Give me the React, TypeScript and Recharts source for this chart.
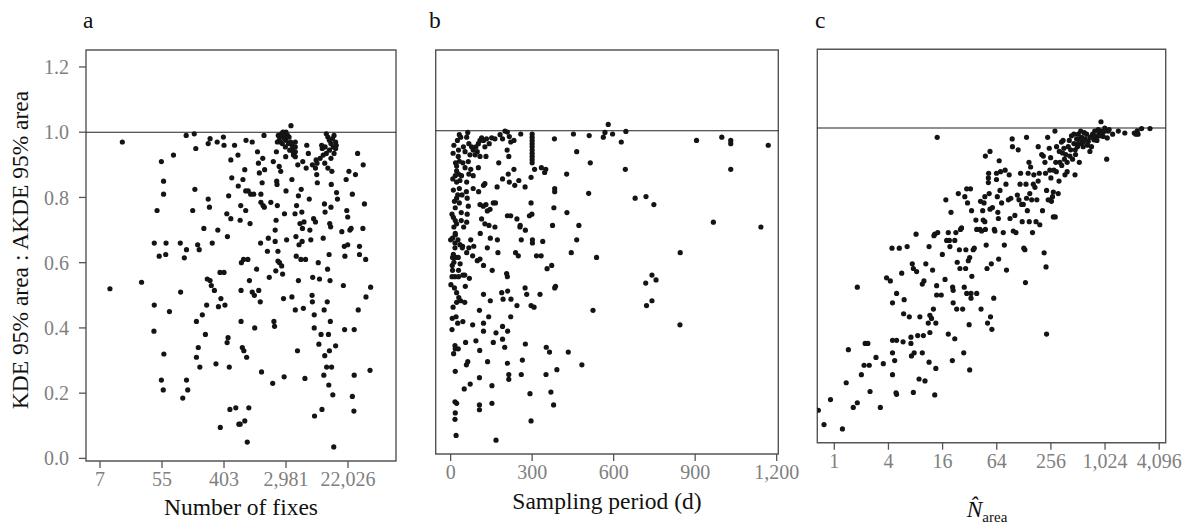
import { ScatterChart, Scatter, XAxis, YAxis, ReferenceLine, ReferenceArea } from 'recharts';

const FONT = '"Liberation Serif", "Times New Roman", serif';

const Y_TICKS = [0, 0.2, 0.4, 0.6, 0.8, 1.0, 1.2];
const Y_DOMAIN: [number, number] = [-0.008, 1.252];

// panel a: x = ln(number of fixes)
const FIXES_TICKS = [2, 4, 6, 8, 10];
// panel b: days
const PERIOD_TICKS = [0, 300, 600, 900, 1200];
// panel c: x = log2(N area)
const NAREA_TICKS = [0, 2, 4, 6, 8, 10, 12];

const fixesPoints: [number, number][] = [
  [2.32, 0.52], [2.72, 0.97], [3.34, 0.54], [3.75, 0.66], [3.75, 0.47], [3.74, 0.39], [3.84, 0.76], [3.98, 0.91],
  [3.91, 0.62], [4.05, 0.85], [4.05, 0.81], [3.98, 0.24], [4.04, 0.21], [4.06, 0.32], [4.13, 0.66], [4.12, 0.625],
  [4.24, 0.45], [4.37, 0.93], [4.59, 0.66], [4.6, 0.51], [4.67, 0.185], [4.72, 0.615], [4.78, 0.99], [4.79, 0.24],
  [4.83, 0.21], [4.79, 0.64], [4.99, 0.76], [5.04, 0.995], [5.06, 0.825], [5.09, 0.95], [5.11, 0.42], [5.11, 0.31],
  [5.17, 0.34], [5.15, 0.655], [5.2, 0.64], [5.22, 0.28], [5.3, 0.44], [5.35, 0.705], [5.4, 0.38], [5.44, 0.47],
  [5.49, 0.965], [5.49, 0.795], [5.53, 0.77], [5.55, 0.98], [5.46, 0.55], [5.55, 0.545], [5.59, 0.53], [5.62, 0.66],
  [5.69, 0.515], [5.74, 0.29], [5.78, 0.97], [5.8, 0.7], [5.82, 0.465], [5.87, 0.57], [5.9, 0.49], [5.88, 0.095],
  [5.98, 0.985], [6.0, 0.96], [6.0, 0.57], [6.03, 0.47], [6.09, 0.75], [6.11, 0.68], [6.13, 0.37], [6.1, 0.355],
  [6.15, 0.805], [6.17, 0.28], [6.19, 0.15], [6.22, 0.915], [6.22, 0.735], [6.25, 0.86], [6.34, 0.96], [6.38, 0.155],
  [6.45, 0.93], [6.46, 0.835], [6.48, 0.105], [6.52, 0.105], [6.54, 0.775], [6.52, 0.73], [6.55, 0.42], [6.55, 0.515],
  [6.56, 0.6], [6.59, 0.34], [6.61, 0.855], [6.63, 0.61], [6.64, 0.33], [6.67, 0.885], [6.67, 0.115], [6.7, 0.76],
  [6.7, 0.82], [6.71, 0.975], [6.73, 0.31], [6.75, 0.05], [6.77, 0.61], [6.78, 0.82], [6.8, 0.155], [6.82, 0.545],
  [6.84, 0.72], [6.86, 0.81], [6.91, 0.51], [6.91, 0.97], [6.96, 0.81], [6.98, 0.5], [6.99, 0.4], [7.05, 0.58],
  [7.08, 0.94], [7.11, 0.905], [7.12, 0.515], [7.14, 0.875], [7.17, 0.48], [7.18, 0.66], [7.19, 0.81], [7.19, 0.785],
  [7.21, 0.265], [7.23, 0.845], [7.25, 0.92], [7.26, 0.775], [7.29, 0.99], [7.31, 0.885], [7.3, 0.77], [7.4, 0.635],
  [7.43, 0.675], [7.46, 0.555], [7.51, 0.785], [7.57, 0.23], [7.59, 0.91], [7.61, 0.42], [7.63, 0.405], [7.65, 0.665],
  [7.65, 0.7], [7.67, 0.575], [7.68, 0.73], [7.69, 0.94], [7.7, 0.85], [7.71, 0.84], [7.72, 0.775], [7.74, 0.635],
  [7.74, 0.605], [7.78, 0.895], [7.79, 0.6], [7.83, 0.88], [7.86, 0.59], [7.89, 0.565], [7.92, 0.49], [7.94, 0.25],
  [7.95, 0.75], [8.0, 0.82], [7.99, 0.925], [8.02, 0.67], [8.16, 1.02], [8.19, 0.495], [8.19, 0.855], [8.29, 0.75],
  [8.3, 0.455], [8.32, 0.68], [8.33, 0.62], [8.34, 0.775], [8.37, 0.33], [8.38, 0.9], [8.4, 0.545], [8.4, 0.805],
  [8.42, 0.655], [8.45, 0.72], [8.48, 0.61], [8.51, 0.755], [8.49, 0.825], [8.53, 0.705], [8.52, 0.665], [8.54, 0.91],
  [8.56, 0.46], [8.58, 0.725], [8.61, 0.245], [8.63, 0.61], [8.65, 0.89], [8.67, 0.96], [8.72, 0.935], [8.75, 0.795],
  [8.77, 0.7], [8.8, 0.67], [8.84, 0.5], [8.85, 0.48], [8.86, 0.555], [8.89, 0.735], [8.91, 0.4], [8.91, 0.44],
  [8.92, 0.13], [8.95, 0.725], [8.97, 0.915], [8.99, 0.87], [9.01, 0.845], [9.04, 0.6], [9.06, 0.35], [9.08, 0.55],
  [9.13, 0.38], [9.16, 0.15], [9.17, 0.95], [9.2, 0.675], [9.22, 0.255], [9.23, 0.455], [9.24, 0.78], [9.25, 0.315],
  [9.26, 0.955], [9.26, 0.755], [9.31, 0.28], [9.33, 0.48], [9.34, 0.58], [9.37, 0.38], [9.38, 0.225], [9.39, 0.625],
  [9.4, 0.33], [9.41, 0.72], [9.42, 0.545], [9.43, 0.42], [9.44, 0.71], [9.45, 0.77], [9.46, 0.84], [9.47, 0.28],
  [9.51, 0.195], [9.54, 0.035], [9.6, 0.345], [9.63, 0.815], [9.66, 0.795], [9.8, 0.695], [9.85, 0.53], [9.88, 0.65],
  [9.89, 0.395], [9.9, 0.62], [9.94, 0.855], [9.96, 0.76], [9.99, 0.655], [9.99, 0.74], [10.03, 0.88], [10.06, 0.7],
  [10.1, 0.705], [10.14, 0.81], [10.14, 0.19], [10.19, 0.145], [10.2, 0.395], [10.2, 0.255], [10.24, 0.87], [10.31, 0.935],
  [10.33, 0.455], [10.37, 0.625], [10.48, 0.705], [10.49, 0.9], [10.53, 0.78], [10.57, 0.61], [10.58, 0.495], [10.73, 0.525],
  [10.71, 0.27], [10.37, 0.65],
  // dense cluster near 3,000 fixes
  [7.75, 0.99], [7.8, 0.985], [7.85, 0.995], [7.9, 0.99], [7.95, 0.98], [8.0, 0.975], [7.82, 0.97], [7.88, 0.965],
  [7.78, 0.975], [8.05, 0.99], [8.1, 0.985], [8.15, 0.97], [8.2, 0.96], [8.22, 0.95], [8.23, 0.94], [8.24, 0.93],
  [7.9, 1.0], [8.0, 1.0], [7.98, 0.955], [8.08, 0.965], [8.12, 0.945], [7.72, 0.97], [8.3, 0.97], [8.3, 0.955],
  [8.3, 0.94], [8.3, 0.925],
  // dense cluster near 12,000 fixes
  [9.3, 0.995], [9.35, 0.985], [9.4, 0.975], [9.45, 0.965], [9.5, 0.98], [9.55, 0.99], [9.6, 0.97], [9.52, 0.955],
  [9.4, 0.945], [9.3, 0.935], [9.2, 0.93], [9.1, 0.92], [9.0, 0.905], [8.95, 0.89], [9.25, 0.905], [9.45, 0.92],
  [9.55, 0.935], [9.6, 0.95], [9.15, 0.96], [8.85, 0.9], [9.62, 0.96], [9.48, 0.88], [9.35, 0.89],
];

const periodPoints: [number, number][] = [
  [580, 1.02], [568, 0.995], [562, 0.98], [596, 0.99], [645, 0.998], [510, 0.985], [452, 0.99], [382, 0.975],
  [628, 0.965], [905, 0.97], [998, 0.98], [1031, 0.97], [1031, 0.96], [1169, 0.955], [464, 0.935], [514, 0.9],
  [643, 0.88], [1031, 0.88], [427, 0.865], [508, 0.805], [679, 0.79], [719, 0.795], [748, 0.77], [967, 0.715],
  [1142, 0.7], [472, 0.705], [428, 0.745], [380, 0.76], [383, 0.82], [383, 0.81], [375, 0.705], [464, 0.66],
  [444, 0.62], [537, 0.605], [845, 0.62], [741, 0.55], [756, 0.535], [718, 0.525], [741, 0.47], [721, 0.455],
  [524, 0.44], [844, 0.395], [433, 0.31], [483, 0.27], [391, 0.255], [351, 0.24], [369, 0.185], [379, 0.145],
  [296, 0.095], [167, 0.035], [20, 0.05], [16, 0.1], [17, 0.12], [22, 0.15], [16, 0.155], [106, 0.145],
  [106, 0.13], [152, 0.15], [152, 0.205], [50, 0.195], [72, 0.21], [106, 0.23], [17, 0.25], [58, 0.27],
  [63, 0.28], [136, 0.28], [209, 0.275], [214, 0.24], [214, 0.225], [260, 0.24], [264, 0.285], [292, 0.18],
  [11, 0.305], [17, 0.32], [28, 0.32], [16, 0.33], [55, 0.34], [93, 0.345], [107, 0.315], [157, 0.34],
  [191, 0.35], [199, 0.325], [167, 0.37], [210, 0.375], [275, 0.335], [352, 0.325], [364, 0.31], [5, 0.38],
  [6, 0.415], [20, 0.42], [26, 0.4], [45, 0.405], [81, 0.395], [106, 0.44], [121, 0.4], [121, 0.375],
  [140, 0.42], [191, 0.39], [221, 0.42], [244, 0.455], [222, 0.475], [193, 0.475], [188, 0.495], [210, 0.5],
  [146, 0.47], [121, 0.49], [22, 0.465], [37, 0.47], [52, 0.465], [22, 0.495], [54, 0.515], [1, 0.52],
  [5, 0.545], [16, 0.545], [29, 0.545], [52, 0.55], [69, 0.54], [7, 0.565], [29, 0.565], [7, 0.605],
  [18, 0.605], [28, 0.605], [10, 0.615], [16, 0.635], [43, 0.635], [59, 0.62], [81, 0.61], [98, 0.595],
  [108, 0.6], [121, 0.58], [153, 0.565], [135, 0.635], [146, 0.665], [172, 0.66], [174, 0.62], [206, 0.555],
  [209, 0.545], [239, 0.62], [249, 0.61], [260, 0.66], [274, 0.51], [280, 0.49], [296, 0.455], [307, 0.45],
  [329, 0.49], [386, 0.515], [383, 0.51], [355, 0.57], [372, 0.58], [316, 0.61], [333, 0.61], [339, 0.655],
  [301, 0.66], [301, 0.65], [0, 0.66], [7, 0.665], [17, 0.675], [27, 0.66], [16, 0.65], [34, 0.645],
  [44, 0.64], [67, 0.635], [74, 0.66], [17, 0.68], [109, 0.68], [85, 0.64],
  [32, 0.988], [37, 0.98], [9, 0.93], [29, 0.94], [28, 0.92], [32, 0.905], [22, 0.89], [22, 0.875],
  [17, 0.86], [29, 0.865], [34, 0.845], [22, 0.84], [10, 0.815], [32, 0.82], [22, 0.79], [32, 0.775],
  [17, 0.76], [39, 0.745], [10, 0.73], [17, 0.72], [39, 0.72], [59, 0.715], [61, 0.74], [65, 0.765],
  [61, 0.79], [58, 0.81], [59, 0.84], [67, 0.865], [74, 0.88], [53, 0.885], [65, 0.904], [71, 0.925],
  [83, 0.94], [93, 0.95], [102, 0.96], [108, 0.97], [114, 0.978], [121, 0.97], [132, 0.975], [142, 0.96],
  [126, 0.95], [98, 0.935], [90, 0.925], [108, 0.92], [130, 0.92], [102, 0.885], [83, 0.86], [83, 0.82],
  [103, 0.81], [121, 0.83], [126, 0.835], [108, 0.77], [120, 0.765], [130, 0.77], [135, 0.75], [145, 0.755],
  [157, 0.775], [165, 0.775], [114, 0.725], [126, 0.71], [141, 0.705], [163, 0.7], [59, 0.98], [63, 0.995],
  [67, 0.96], [77, 0.95], [47, 0.95], [53, 0.935], [151, 0.978], [163, 0.975], [182, 0.988], [191, 0.975],
  [200, 0.999], [209, 0.996], [216, 0.982], [221, 0.965], [233, 0.97], [258, 0.99], [208, 0.94], [214, 0.92],
  [177, 0.9], [233, 0.88], [191, 0.85], [212, 0.865], [216, 0.84], [236, 0.83], [251, 0.845], [171, 0.825],
  [274, 0.825], [209, 0.735], [221, 0.735], [244, 0.725], [256, 0.705], [255, 0.7], [275, 0.69], [290, 0.735],
  [299, 0.74], [296, 0.775], [296, 0.855], [309, 0.88], [334, 0.885], [350, 0.88], [346, 0.87],
  [300, 0.99], [300, 0.98], [300, 0.97], [300, 0.96], [300, 0.95], [300, 0.94], [300, 0.93], [300, 0.92],
  [300, 0.91], [300, 0.9],
  [12, 0.7], [22, 0.71], [5, 0.74], [14, 0.78], [26, 0.8], [8, 0.85], [18, 0.9], [40, 0.86],
  [45, 0.9], [42, 0.8], [48, 0.7], [12, 0.955], [25, 0.97], [6, 0.58], [12, 0.59], [35, 0.585],
  [45, 0.55], [14, 0.51], [30, 0.48], [9, 0.45],
];

const nAreaPoints: [number, number][] = [
  [-0.59, 0.096], [-0.38, 0.05], [-0.14, 0.13], [0.3, 0.036], [0.44, 0.184], [0.52, 0.29], [0.7, 0.105], [0.85, 0.12],
  [0.85, 0.49], [1.0, 0.21], [1.1, 0.24], [1.14, 0.31], [1.24, 0.31], [1.29, 0.24], [1.32, 0.156], [1.54, 0.265],
  [1.7, 0.105], [1.81, 0.245], [1.93, 0.52], [2.07, 0.51], [2.13, 0.615], [2.15, 0.44], [2.15, 0.28], [2.15, 0.21],
  [2.15, 0.32], [2.23, 0.255], [2.28, 0.152], [2.3, 0.147], [2.3, 0.47], [2.3, 0.32], [2.4, 0.615], [2.49, 0.535],
  [2.54, 0.315], [2.56, 0.405], [2.58, 0.45], [2.69, 0.62], [2.77, 0.395], [2.83, 0.31], [2.83, 0.33], [2.85, 0.27],
  [2.88, 0.565], [2.92, 0.55], [2.92, 0.153], [2.95, 0.28], [3.02, 0.66], [3.04, 0.54], [3.08, 0.335], [3.13, 0.196],
  [3.16, 0.395], [3.25, 0.5], [3.25, 0.28], [3.29, 0.335], [3.31, 0.51], [3.35, 0.19], [3.38, 0.565], [3.47, 0.375],
  [3.5, 0.62], [3.5, 0.25], [3.53, 0.345], [3.53, 0.4], [3.59, 0.39], [3.63, 0.545], [3.66, 0.42], [3.68, 0.655],
  [3.71, 0.66], [3.75, 0.375], [3.75, 0.23], [3.71, 0.145], [3.78, 0.495], [3.8, 0.97], [3.82, 0.665], [3.78, 0.465],
  [3.95, 0.465], [3.99, 0.595], [4.09, 0.515], [4.12, 0.77], [4.15, 0.64], [4.21, 0.34], [4.21, 0.665], [4.25, 0.64],
  [4.27, 0.62], [4.31, 0.73], [4.36, 0.255], [4.37, 0.49], [4.39, 0.48], [4.39, 0.44], [4.45, 0.325], [4.45, 0.64],
  [4.49, 0.665], [4.52, 0.42], [4.54, 0.57], [4.58, 0.79], [4.62, 0.61], [4.64, 0.55], [4.66, 0.675], [4.7, 0.68],
  [4.74, 0.42], [4.78, 0.28], [4.8, 0.49], [4.82, 0.78], [4.85, 0.55], [4.86, 0.61], [4.89, 0.805], [4.89, 0.47],
  [4.92, 0.76], [4.95, 0.575], [4.98, 0.37], [5.0, 0.225], [5.0, 0.585], [5.03, 0.805], [5.05, 0.47], [5.05, 0.455],
  [5.07, 0.735], [5.08, 0.525], [5.13, 0.61], [5.17, 0.615], [5.23, 0.705], [5.26, 0.47], [5.26, 0.675], [5.38, 0.675],
  [5.4, 0.765], [5.42, 0.42], [5.44, 0.67], [5.48, 0.735], [5.5, 0.705], [5.53, 0.76], [5.56, 0.78], [5.56, 0.7],
  [5.58, 0.91], [5.58, 0.675], [5.61, 0.625], [5.64, 0.55], [5.66, 0.375], [5.69, 0.84], [5.69, 0.825], [5.7, 0.855],
  [5.72, 0.79], [5.75, 0.925], [5.75, 0.74], [5.77, 0.395], [5.8, 0.565], [5.82, 0.355], [5.84, 0.745], [5.89, 0.455],
  [5.91, 0.675], [5.93, 0.67], [5.99, 0.855], [5.99, 0.835], [6.02, 0.78], [6.04, 0.73], [6.06, 0.71], [6.07, 0.58],
  [6.09, 0.895], [6.12, 0.8], [6.14, 0.86], [6.18, 0.76], [6.24, 0.665], [6.28, 0.625], [6.31, 0.865], [6.34, 0.82],
  [6.36, 0.545], [6.43, 0.77], [6.46, 0.85], [6.49, 0.71], [6.52, 0.775], [6.57, 0.965], [6.58, 0.94], [6.61, 0.67],
  [6.67, 0.72], [6.71, 0.665], [6.76, 0.785], [6.79, 0.93], [6.82, 0.77], [6.86, 0.82], [6.88, 0.855], [6.92, 0.755],
  [6.94, 0.7], [6.98, 0.755], [7.0, 0.615], [7.04, 0.61], [7.06, 0.505], [7.08, 0.82], [7.1, 0.97], [7.1, 0.775],
  [7.13, 0.735], [7.16, 0.855], [7.19, 0.89], [7.2, 0.7], [7.22, 0.79], [7.25, 0.875], [7.29, 0.77], [7.32, 0.665],
  [7.35, 0.82], [7.37, 0.85], [7.41, 0.81], [7.45, 0.7], [7.48, 0.77], [7.53, 0.94], [7.53, 0.83], [7.57, 0.855],
  [7.59, 0.69], [7.66, 0.915], [7.69, 0.735], [7.72, 0.91], [7.75, 0.6], [7.78, 0.89], [7.8, 0.855], [7.82, 0.555],
  [7.84, 0.34], [7.84, 0.8], [7.88, 0.97], [7.9, 0.77], [7.94, 0.935], [7.96, 0.865], [7.99, 0.905], [8.02, 0.765],
  [8.06, 0.78], [8.09, 0.715], [8.11, 0.865], [8.15, 0.99], [8.18, 0.89], [8.21, 0.94], [8.27, 0.79], [8.31, 0.925],
  [8.33, 0.89], [8.39, 0.955], [8.43, 0.92], [8.48, 0.935], [8.52, 0.85], [8.55, 0.915], [8.6, 0.89], [8.64, 0.94],
  [8.68, 0.96], [8.73, 0.93], [8.76, 0.975], [8.8, 0.9], [8.85, 0.95], [8.89, 0.85], [8.91, 0.915], [8.95, 0.965],
  [8.98, 0.94], [9.01, 0.98], [9.05, 0.89], [9.07, 0.965], [9.11, 0.95], [9.14, 0.97], [9.19, 0.94], [9.23, 0.985],
  [9.27, 0.965], [9.32, 0.98], [9.38, 0.957], [9.44, 0.925], [9.5, 0.94], [9.54, 0.98], [9.59, 0.962], [9.62, 0.99],
  [9.69, 0.973], [9.75, 0.995], [9.78, 0.985], [9.85, 1.02], [9.87, 0.99], [9.93, 0.973], [9.99, 1.0], [10.06, 0.9],
  [10.08, 0.968], [10.12, 0.99], [10.15, 0.995], [10.28, 0.98], [10.49, 0.99], [10.73, 0.984], [11.08, 0.984], [11.19, 0.991],
  [11.35, 0.998], [11.66, 0.998], [11.22, 0.98], [11.14, 0.98], [8.16, 0.715], [8.09, 0.795], [7.99, 0.77],
  [8.5, 0.9], [8.7, 0.91], [8.9, 0.93], [9.0, 0.95], [9.2, 0.955], [9.35, 0.945], [9.45, 0.97], [9.6, 0.975],
  [9.7, 0.96], [9.8, 0.975], [8.4, 0.88], [8.6, 0.86], [8.2, 0.86], [8.0, 0.84], [8.3, 0.83], [8.45, 0.96],
  [8.85, 0.98], [9.1, 0.99], [9.9, 0.985], [10.0, 0.99],
];

const fmtThousands = (v: number) => Math.round(v).toLocaleString('en-US');

const Dot = (props: any) => <circle cx={props.cx} cy={props.cy} r={2.6} fill="#141414" />;

interface PanelProps {
  points: [number, number][];
  left: number;
  width: number;
  top: number;
  right: number;
  yAxisWidth: number;
  xAxisHeight: number;
  xDomain: [number, number];
  xTicks: number[];
  xFormat: (v: number) => string;
  yLabels: boolean;
}

function Panel({ points, left, width, top, right, yAxisWidth, xAxisHeight, xDomain, xTicks, xFormat, yLabels }: PanelProps) {
  const data = points.map(([x, y]) => ({ x, y }));
  const tickStyle = { fill: '#808080', fontSize: 20, fontFamily: FONT };
  return (
    <div style={{ position: 'absolute', left, top: 0 }}>
      <ScatterChart width={width} height={524} margin={{ top, right, bottom: 0, left: 0 }}>
        <XAxis
          type="number"
          dataKey="x"
          domain={xDomain}
          ticks={xTicks}
          interval={0}
          allowDataOverflow
          tickFormatter={xFormat}
          height={xAxisHeight}
          axisLine={false}
          tickLine={{ stroke: '#555', strokeWidth: 1.3 }}
          tickSize={7}
          tickMargin={4}
          tick={tickStyle}
        />
        <YAxis
          type="number"
          dataKey="y"
          domain={Y_DOMAIN}
          ticks={Y_TICKS}
          interval={0}
          allowDataOverflow
          width={yAxisWidth}
          axisLine={false}
          tickLine={{ stroke: '#555', strokeWidth: 1.3 }}
          tickSize={7}
          tickMargin={10}
          tick={yLabels ? tickStyle : false}
          tickFormatter={(v: number) => v.toFixed(1)}
        />
        <ReferenceArea
          x1={xDomain[0]}
          x2={xDomain[1]}
          y1={Y_DOMAIN[0]}
          y2={Y_DOMAIN[1]}
          fill="none"
          fillOpacity={0}
          stroke="#555"
          strokeWidth={1.4}
        />
        <ReferenceLine y={1} stroke="#222" strokeWidth={1.1} />
        <Scatter data={data} isAnimationActive={false} shape={Dot} />
      </ScatterChart>
    </div>
  );
}

export default function App() {
  const titleStyle = { fontFamily: FONT, fontSize: 23.5, fill: '#111' };
  return (
    <div style={{ position: 'absolute', left: 0, top: 0, width: 1192, height: 524, background: '#fff' }}>
      <Panel
        points={fixesPoints}
        left={0}
        width={400}
        top={50}
        right={4}
        yAxisWidth={86}
        xAxisHeight={63}
        xDomain={[1.548, 11.548]}
        xTicks={FIXES_TICKS}
        xFormat={(v) => fmtThousands(Math.exp(v))}
        yLabels
      />
      <Panel
        points={periodPoints}
        left={400}
        width={410}
        top={50}
        right={31.7}
        yAxisWidth={35.7}
        xAxisHeight={70}
        xDomain={[-55, 1206]}
        xTicks={PERIOD_TICKS}
        xFormat={fmtThousands}
        yLabels={false}
      />
      <Panel
        points={nAreaPoints}
        left={780}
        width={412}
        top={49.3}
        right={26.3}
        yAxisWidth={37.3}
        xAxisHeight={81.3}
        xDomain={[-0.628, 12.24]}
        xTicks={NAREA_TICKS}
        xFormat={(v) => fmtThousands(Math.pow(2, v))}
        yLabels={false}
      />
      <svg width={1192} height={524} style={{ position: 'absolute', left: 0, top: 0, pointerEvents: 'none' }}>
        <text x={83} y={28} style={titleStyle}>a</text>
        <text x={429} y={28} style={titleStyle}>b</text>
        <text x={815} y={28} style={titleStyle}>c</text>
        <text transform="translate(28,250) rotate(-90)" textAnchor="middle" style={titleStyle}>
          KDE 95% area : AKDE 95% area
        </text>
        <text x={241} y={515} textAnchor="middle" style={titleStyle}>Number of fixes</text>
        <text x={607} y={509} textAnchor="middle" style={titleStyle}>Sampling period (d)</text>
        <text x={987} y={517} textAnchor="middle" style={titleStyle}>
          <tspan fontStyle="italic">{'N\u0302'}</tspan>
          <tspan fontSize={15} dy={5}>area</tspan>
        </text>
      </svg>
    </div>
  );
}
